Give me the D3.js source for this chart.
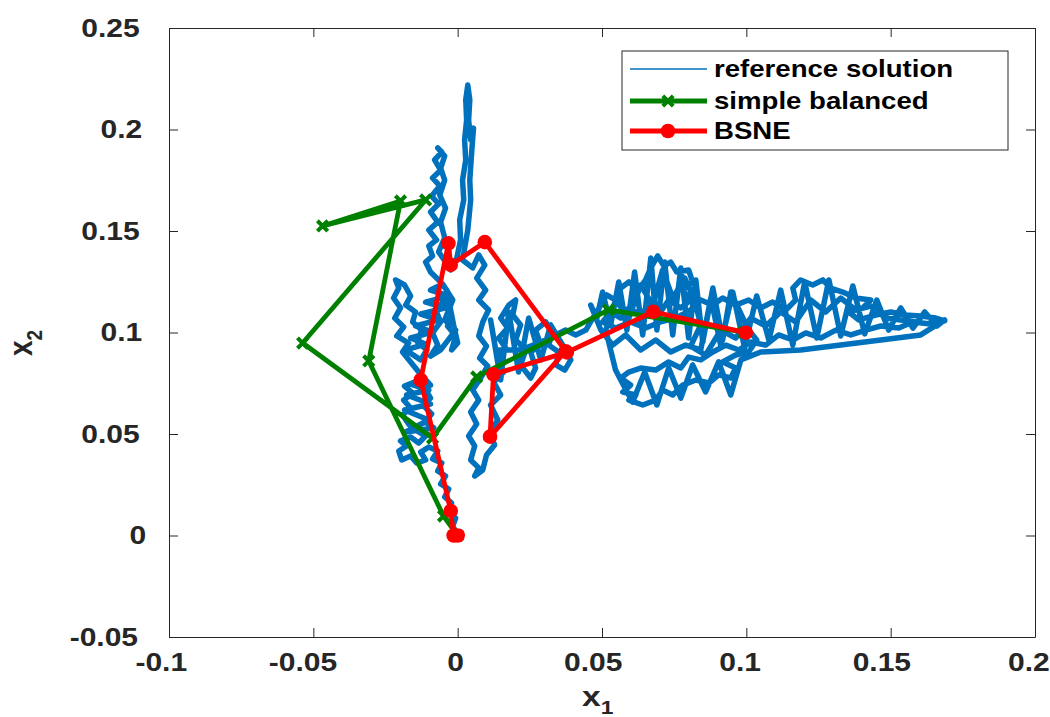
<!DOCTYPE html>
<html>
<head>
<meta charset="utf-8">
<script src="https://cdn.jsdelivr.net/npm/d3@7"></script>
<style>
  body { margin: 0; background: #fff; }
  svg { display: block; }
</style>
</head>
<body>
<svg id="chart" width="1050" height="717"></svg>
<script>
// ---- data ----
const seriesNames = ["reference solution", "simple balanced", "BSNE"];

const xTickValues = [-0.1, -0.05, 0, 0.05, 0.1, 0.15, 0.2];
const xTickLabels = ["-0.1", "-0.05", "0", "0.05", "0.1", "0.15", "0.2"];
const yTickValues = [-0.05, 0, 0.05, 0.1, 0.15, 0.2, 0.25];
const yTickLabels = ["-0.05", "0", "0.05", "0.1", "0.15", "0.2", "0.25"];

// simple balanced scheme (x1, x2)
const simpleX1 = [0, -0.0049, -0.0308, -0.0198, -0.0468, -0.0111, -0.0537, -0.0087, 0.0066, 0.0523, 0.0991];
const simpleX2 = [0, 0.0096, 0.0860, 0.1648, 0.1525, 0.1653, 0.0948, 0.0480, 0.0781, 0.1111, 0.1002];

// BSNE scheme (x1, x2)
const bsneX1 = [0, -0.0014, -0.0024, -0.0128, -0.0032, -0.0024, 0.0094, 0.0374, 0.0112, 0.0124, 0.0378, 0.0678, 0.0998];
const bsneX2 = [0, 0.0000, 0.0121, 0.0766, 0.1439, 0.1333, 0.1445, 0.0908, 0.0487, 0.0794, 0.0902, 0.1102, 0.0999];

// reference solution path (x1, x2)
const referencePath = [
  [0, 0], [-0.0017, 0.0047], [-0.0007, 0.0086], [-0.0031, 0.0116], [-0.0021, 0.0160],
  [-0.0045, 0.0190], [-0.0031, 0.0229], [-0.0059, 0.0254], [-0.0042, 0.0293], [-0.0069, 0.0318],
  [-0.0055, 0.0357], [-0.0087, 0.0377], [-0.0069, 0.0416], [-0.0100, 0.0436], [-0.0128, 0.0411],
  [-0.0111, 0.0372], [-0.0142, 0.0357], [-0.0163, 0.0392], [-0.0194, 0.0372], [-0.0204, 0.0416],
  [-0.0177, 0.0441], [-0.0198, 0.0466], [-0.0163, 0.0485], [-0.0135, 0.0456], [-0.0111, 0.0490],
  [-0.0146, 0.0520], [-0.0170, 0.0549], [-0.0191, 0.0594], [-0.0163, 0.0628], [-0.0187, 0.0667],
  [-0.0156, 0.0702], [-0.0184, 0.0736], [-0.0149, 0.0756], [-0.0114, 0.0727], [-0.0094, 0.0677],
  [-0.0121, 0.0643], [-0.0090, 0.0599], [-0.0114, 0.0559], [-0.0083, 0.0530],
  [-0.0180, 0.0510], [-0.0100, 0.0569], [-0.0184, 0.0618], [-0.0094, 0.0648], [-0.0177, 0.0692],
  [-0.0100, 0.0717], [-0.0163, 0.0746], [-0.0094, 0.0741],
  [-0.0135, 0.0805], [-0.0163, 0.0855], [-0.0191, 0.0904], [-0.0170, 0.0948], [-0.0211, 0.0983],
  [-0.0187, 0.1027], [-0.0218, 0.1071], [-0.0198, 0.1121], [-0.0222, 0.1170], [-0.0204, 0.1219],
  [-0.0215, 0.1259], [-0.0184, 0.1234], [-0.0163, 0.1180], [-0.0180, 0.1135], [-0.0146, 0.1101],
  [-0.0156, 0.1052], [-0.0125, 0.1012], [-0.0139, 0.0953], [-0.0107, 0.0914], [-0.0128, 0.0865],
  [-0.0180, 0.0914], [-0.0111, 0.0943], [-0.0163, 0.0973], [-0.0087, 0.1002], [-0.0146, 0.1032],
  [-0.0066, 0.1062], [-0.0128, 0.1091], [-0.0042, 0.1121], [-0.0111, 0.1150], [-0.0031, 0.1180],
  [-0.0094, 0.1209], [-0.0052, 0.1239], [-0.0017, 0.1160], [-0.0045, 0.1062], [-0.0007, 0.1012],
  [-0.0059, 0.0914],
  [-0.0094, 0.0884], [-0.0069, 0.0938], [-0.0087, 0.0998], [-0.0059, 0.1052], [-0.0076, 0.1111],
  [-0.0045, 0.1160], [-0.0024, 0.1101], [-0.0035, 0.1032], [-0.0007, 0.0983], [-0.0021, 0.0914],
  [0.0000, 0.0948], [-0.0014, 0.1037], [-0.0038, 0.1209], [-0.0066, 0.1259], [-0.0094, 0.1298],
  [-0.0111, 0.1347], [-0.0087, 0.1377], [-0.0100, 0.1426], [-0.0073, 0.1456], [-0.0100, 0.1505],
  [-0.0069, 0.1544], [-0.0094, 0.1594], [-0.0066, 0.1633], [-0.0090, 0.1672], [-0.0062, 0.1722],
  [-0.0087, 0.1761], [-0.0059, 0.1800], [-0.0080, 0.1850], [-0.0055, 0.1889], [-0.0069, 0.1909],
  [-0.0045, 0.1869], [-0.0059, 0.1810], [-0.0045, 0.1751], [-0.0062, 0.1677], [-0.0042, 0.1613],
  [-0.0059, 0.1544], [-0.0045, 0.1466], [-0.0066, 0.1397], [-0.0042, 0.1347], [-0.0024, 0.1308],
  [-0.0003, 0.1367], [0.0010, 0.1456], [0.0007, 0.1554], [0.0021, 0.1653], [0.0017, 0.1751],
  [0.0028, 0.1850], [0.0024, 0.1948], [0.0031, 0.2047], [0.0028, 0.2146], [0.0035, 0.2219],
  [0.0042, 0.2146], [0.0038, 0.2047], [0.0045, 0.1948], [0.0055, 0.2007], [0.0049, 0.1899],
  [0.0042, 0.1751], [0.0045, 0.1653], [0.0035, 0.1505], [0.0017, 0.1357], [0.0052, 0.1318],
  [0.0073, 0.1382], [0.0094, 0.1332], [0.0066, 0.1268], [0.0097, 0.1209], [0.0073, 0.1160],
  [0.0107, 0.1111], [0.0087, 0.1052], [0.0073, 0.0983], [0.0100, 0.0933], [0.0076, 0.0874],
  [0.0104, 0.0835], [0.0080, 0.0776], [0.0052, 0.0717], [0.0073, 0.0667], [0.0045, 0.0608],
  [0.0066, 0.0549], [0.0038, 0.0490], [0.0059, 0.0441], [0.0045, 0.0372], [0.0073, 0.0333],
  [0.0059, 0.0293], [0.0087, 0.0323], [0.0100, 0.0397], [0.0128, 0.0446], [0.0111, 0.0510],
  [0.0139, 0.0569], [0.0114, 0.0643], [0.0149, 0.0692], [0.0125, 0.0756], [0.0159, 0.0805],
  [0.0139, 0.0865], [0.0166, 0.0924], [0.0142, 0.0973], [0.0173, 0.1022], [0.0149, 0.1071],
  [0.0177, 0.1135], [0.0201, 0.1160], [0.0191, 0.1086], [0.0218, 0.1037], [0.0201, 0.0963],
  [0.0236, 0.0914], [0.0218, 0.0840], [0.0253, 0.0776], [0.0270, 0.0825], [0.0253, 0.0904],
  [0.0288, 0.0938], [0.0270, 0.1012], [0.0305, 0.1052], [0.0329, 0.1002], [0.0315, 0.0938],
  [0.0350, 0.0904], [0.0340, 0.0840], [0.0371, 0.0815], [0.0392, 0.0865], [0.0364, 0.0938],
  [0.0322, 0.1037], [0.0288, 0.0865], [0.0246, 0.1071], [0.0211, 0.0805], [0.0177, 0.1101],
  [0.0149, 0.0766], [0.0114, 0.1062], [0.0132, 0.0914], [0.0218, 0.0914], [0.0305, 0.0963],
  [0.0374, 0.1012],
  [0.0409, 0.0988], [0.0444, 0.1012], [0.0468, 0.1071], [0.0496, 0.1135], [0.0516, 0.1185],
  [0.0547, 0.1160], [0.0565, 0.1219], [0.0593, 0.1249], [0.0627, 0.1209], [0.0651, 0.1259],
  [0.0669, 0.1318], [0.0693, 0.1377], [0.0714, 0.1328], [0.0738, 0.1347], [0.0759, 0.1298],
  [0.0800, 0.1308], [0.0814, 0.1249], [0.0780, 0.1209], [0.0807, 0.1160], [0.0773, 0.1121],
  [0.0731, 0.1160], [0.0703, 0.1101], [0.0662, 0.1135], [0.0634, 0.1086], [0.0593, 0.1121],
  [0.0565, 0.1071], [0.0530, 0.1101], [0.0502, 0.1052], [0.0547, 0.1022], [0.0599, 0.1052],
  [0.0651, 0.1022], [0.0703, 0.1052], [0.0755, 0.1071], [0.0807, 0.1111], [0.0842, 0.1160],
  [0.0884, 0.1135], [0.0918, 0.1170], [0.0963, 0.1135], [0.1008, 0.1160], [0.1050, 0.1121],
  [0.1091, 0.1150], [0.1137, 0.1111], [0.1171, 0.1160], [0.1161, 0.1219], [0.1188, 0.1259],
  [0.1230, 0.1234], [0.1265, 0.1259], [0.1292, 0.1219], [0.1334, 0.1199], [0.1379, 0.1170],
  [0.1431, 0.1160], [0.1403, 0.1121], [0.1355, 0.1101], [0.1389, 0.1062], [0.1448, 0.1086],
  [0.1500, 0.1101], [0.1552, 0.1086], [0.1604, 0.1081], [0.1656, 0.1071], [0.1687, 0.1057],
  [0.1639, 0.1042], [0.1577, 0.1052], [0.1528, 0.1022], [0.1466, 0.1032], [0.1414, 0.1012],
  [0.1362, 0.0988], [0.1310, 0.1012], [0.1258, 0.0973], [0.1206, 0.0998], [0.1161, 0.0963],
  [0.1112, 0.0988], [0.1067, 0.0938], [0.1015, 0.0953], [0.0974, 0.0914], [0.0929, 0.0938],
  [0.0884, 0.0904], [0.0842, 0.0865], [0.0800, 0.0879], [0.0773, 0.0825], [0.0731, 0.0855],
  [0.0686, 0.0815], [0.0634, 0.0825], [0.0593, 0.0805], [0.0565, 0.0776], [0.0599, 0.0741],
  [0.0572, 0.0707], [0.0617, 0.0692], [0.0593, 0.0667], [0.0641, 0.0643], [0.0686, 0.0667],
  [0.0710, 0.0717], [0.0745, 0.0692], [0.0780, 0.0741], [0.0825, 0.0766], [0.0870, 0.0751],
  [0.0904, 0.0791], [0.0946, 0.0776], [0.0963, 0.0825], [0.0918, 0.0855], [0.0963, 0.0889],
  [0.1008, 0.0904], [0.1036, 0.0963], [0.1008, 0.1012],
  [0.0946, 0.1199], [0.0918, 0.0963], [0.0884, 0.1219], [0.0849, 0.0953], [0.0825, 0.1259],
  [0.0800, 0.0973], [0.0773, 0.1318], [0.0745, 0.0988], [0.0717, 0.1347], [0.0690, 0.1012],
  [0.0669, 0.1367], [0.0641, 0.0988], [0.0613, 0.1298], [0.0586, 0.1012], [0.0558, 0.1249],
  [0.0530, 0.1037], [0.0502, 0.1199], [0.0482, 0.1071], [0.0461, 0.1135], [0.0496, 0.1012],
  [0.0537, 0.0938], [0.0582, 0.0988], [0.0634, 0.0914], [0.0686, 0.0963], [0.0738, 0.0904],
  [0.0790, 0.0938], [0.0842, 0.0914], [0.0877, 0.1170], [0.0911, 0.0938], [0.0953, 0.1199],
  [0.0994, 0.0924], [0.1036, 0.1180], [0.1078, 0.0963], [0.1119, 0.1209], [0.1161, 0.0938],
  [0.1202, 0.1249], [0.1244, 0.0973], [0.1286, 0.1259], [0.1327, 0.0983], [0.1369, 0.1229],
  [0.1410, 0.0993], [0.1452, 0.1160], [0.1493, 0.1012], [0.1535, 0.1121], [0.1577, 0.1022],
  [0.1618, 0.1101], [0.1660, 0.1032], [0.1687, 0.1062], [0.1604, 0.0988], [0.1466, 0.0963],
  [0.1327, 0.0938], [0.1188, 0.0914], [0.1050, 0.0904], [0.0981, 0.0865], [0.0946, 0.0692],
  [0.0904, 0.0855], [0.0859, 0.0707], [0.0814, 0.0840], [0.0773, 0.0677], [0.0731, 0.0825],
  [0.0690, 0.0643], [0.0648, 0.0805], [0.0606, 0.0657], [0.0565, 0.0766], [0.0547, 0.0815],
  [0.0513, 0.1012], [0.0547, 0.1160], [0.0593, 0.1071], [0.0634, 0.1234], [0.0676, 0.1135],
  [0.0710, 0.1308], [0.0745, 0.1170], [0.0787, 0.1268], [0.0821, 0.1160], [0.0842, 0.1037],
  [0.0807, 0.0933], [0.0859, 0.0889], [0.0911, 0.1012], [0.0963, 0.0973], [0.1015, 0.1071],
  [0.1067, 0.1032], [0.1119, 0.1101], [0.1171, 0.1052], [0.1223, 0.1160], [0.1275, 0.1101],
  [0.1327, 0.1170], [0.1379, 0.1111], [0.1431, 0.1130], [0.1483, 0.1071], [0.1535, 0.1062],
  [0.1587, 0.1052]
];

// ---- layout & style ----
const colors = { ref: "#0072BD", simple: "#008000", bsne: "#FF0000", axis: "#262626" };
const font = "'Liberation Sans', Arial, Helvetica, sans-serif";
const stretch = 1.2; // glyphs are rendered slightly wide

const svg = d3.select("#chart");
const x = d3.scaleLinear().domain([-0.1, 0.2]).range([169, 1035]);
const y = d3.scaleLinear().domain([-0.05, 0.25]).range([637, 28]);
const line = d3.line().x(d => x(d[0])).y(d => y(d[1]));

const zip = (a, b) => a.map((v, i) => [v, b[i]]);
const simplePts = zip(simpleX1, simpleX2);
const bsnePts = zip(bsneX1, bsneX2);

// ---- axes (box with inward ticks on all sides) ----
function styleAxis(g) {
  g.attr("font-family", font).attr("font-size", 25).attr("font-weight", "bold");
  g.selectAll("path.domain").attr("stroke", colors.axis).attr("stroke-width", 1);
  g.selectAll(".tick line").attr("stroke", colors.axis).attr("stroke-width", 1);
  g.selectAll("text").attr("fill", colors.axis);
}

const gx = svg.append("g").attr("transform", "translate(0,637)")
  .call(d3.axisBottom(x).tickValues(xTickValues).tickFormat((d, i) => xTickLabels[i])
    .tickSizeInner(-9).tickSizeOuter(0).tickPadding(16));
styleAxis(gx);
gx.selectAll("text").each(function () {
  const w = this.getComputedTextLength();
  d3.select(this).attr("x", -0.16 * w).attr("transform", `scale(${stretch},1)`);
});

const gxTop = svg.append("g").attr("transform", "translate(0,28)")
  .call(d3.axisTop(x).tickValues(xTickValues).tickFormat("").tickSizeInner(-9).tickSizeOuter(0));
styleAxis(gxTop);

const gy = svg.append("g").attr("transform", "translate(169,0)")
  .call(d3.axisLeft(y).tickValues(yTickValues).tickFormat((d, i) => yTickLabels[i])
    .tickSizeInner(-9).tickSizeOuter(0).tickPadding(16));
styleAxis(gy);
gy.selectAll("text").each(function () {
  const w = this.getComputedTextLength();
  d3.select(this).attr("x", -(16.7 + 0.16 * w)).attr("transform", `scale(${stretch},1)`);
});

const gyRight = svg.append("g").attr("transform", "translate(1035,0)")
  .call(d3.axisRight(y).tickValues(yTickValues).tickFormat("").tickSizeInner(-9).tickSizeOuter(0));
styleAxis(gyRight);

// ---- axis titles ----
const xTitle = svg.append("g").attr("transform", `translate(582,706) scale(${stretch},1)`)
  .append("text").attr("font-family", font).attr("font-weight", "bold").attr("fill", colors.axis)
  .attr("font-size", 28);
xTitle.append("tspan").text("x");
xTitle.append("tspan").attr("font-size", 19).attr("dy", 8).text("1");

const yTitle = svg.append("g").attr("transform", `translate(32,356) scale(${stretch},1) rotate(-90)`)
  .append("text").attr("font-family", font).attr("font-weight", "bold").attr("fill", colors.axis)
  .attr("font-size", 28);
yTitle.append("tspan").text("x");
yTitle.append("tspan").attr("font-size", 19).attr("dy", 8).text("2");

// ---- data layers ----
const plot = svg.append("g");

// the Brownian-type path is dense, so it is drawn with a heavy stroke
plot.append("path").datum(referencePath)
  .attr("d", line).attr("fill", "none").attr("stroke", colors.ref)
  .attr("stroke-width", 5.5).attr("stroke-linejoin", "round").attr("stroke-linecap", "round");

const crossPath = s => `M${-s},${-s}L${s},${s}M${-s},${s}L${s},${-s}`;

plot.append("path").datum(simplePts)
  .attr("d", line).attr("fill", "none").attr("stroke", colors.simple).attr("stroke-width", 4.8)
  .attr("stroke-linejoin", "round");
plot.selectAll("path.cross").data(simplePts).join("path").attr("class", "cross")
  .attr("transform", d => `translate(${x(d[0])},${y(d[1])})`)
  .attr("d", crossPath(5.2)).attr("stroke", colors.simple).attr("stroke-width", 4).attr("fill", "none");

plot.append("path").datum(bsnePts)
  .attr("d", line).attr("fill", "none").attr("stroke", colors.bsne).attr("stroke-width", 4.8)
  .attr("stroke-linejoin", "round");
plot.selectAll("circle.dot").data(bsnePts).join("circle").attr("class", "dot")
  .attr("cx", d => x(d[0])).attr("cy", d => y(d[1])).attr("r", 7.3).attr("fill", colors.bsne);

// ---- legend ----
const legend = svg.append("g");
legend.append("rect").attr("x", 622).attr("y", 51).attr("width", 386).attr("height", 99)
  .attr("fill", "#fff").attr("stroke", colors.axis).attr("stroke-width", 1);

const legendRows = [
  { name: seriesNames[0], color: colors.ref, width: 1.6, marker: null, cy: 69 },
  { name: seriesNames[1], color: colors.simple, width: 4.8, marker: "cross", cy: 101 },
  { name: seriesNames[2], color: colors.bsne, width: 4.8, marker: "dot", cy: 131 }
];
legendRows.forEach(r => {
  legend.append("line").attr("x1", 630).attr("x2", 707).attr("y1", r.cy).attr("y2", r.cy)
    .attr("stroke", r.color).attr("stroke-width", r.width);
  if (r.marker === "cross") {
    legend.append("path").attr("transform", `translate(668,${r.cy})`).attr("d", crossPath(5.2))
      .attr("stroke", r.color).attr("stroke-width", 4).attr("fill", "none");
  } else if (r.marker === "dot") {
    legend.append("circle").attr("cx", 668).attr("cy", r.cy).attr("r", 7.3).attr("fill", r.color);
  }
  legend.append("g").attr("transform", `translate(714,${r.cy}) scale(${stretch},1)`)
    .append("text").attr("dy", "0.35em").attr("font-family", font).attr("font-weight", "bold")
    .attr("font-size", 23).attr("fill", "#000").text(r.name);
});
</script>
</body>
</html>
